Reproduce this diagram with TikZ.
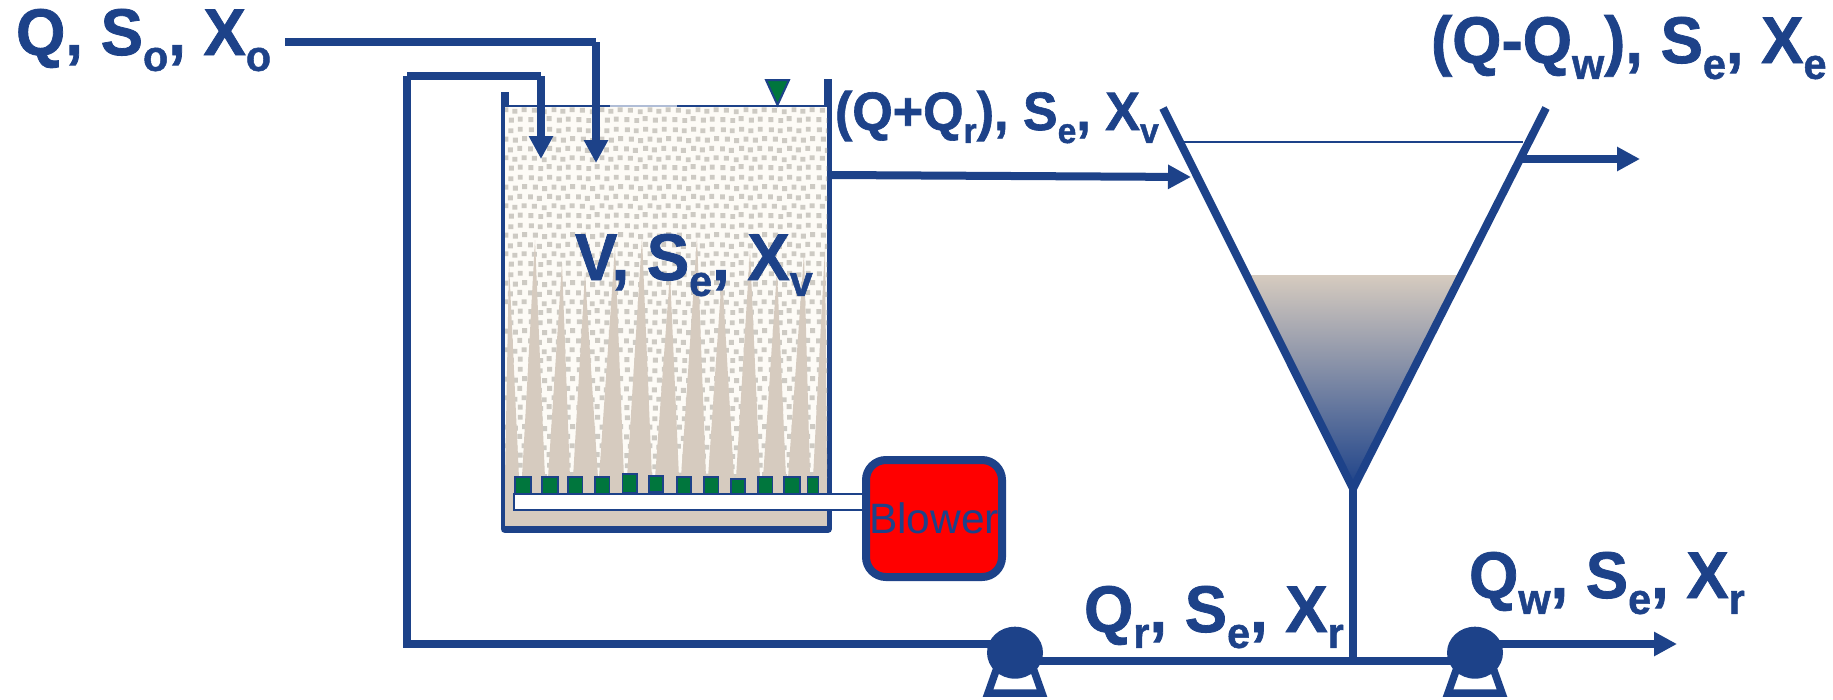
\documentclass[tikz,border=0pt]{standalone}
\usepackage{fontspec}
\setmainfont[BoldFeatures={FakeBold=1.2}]{Liberation Sans}
\usetikzlibrary{arrows.meta, patterns}

\definecolor{pipeblue}{HTML}{1D4289}
\definecolor{sandtan}{HTML}{D6CBBF}
\definecolor{sludgemid}{HTML}{A09CA8}
\definecolor{creamback}{HTML}{FDFBF6}
\definecolor{dotgrey}{HTML}{CDCAC3}
\definecolor{diffgreen}{HTML}{00763D}

\newcommand{\stipdot}[2]{\pgfpathrectangle{\pgfqpoint{#1pt}{#2pt}}{\pgfqpoint{5pt}{5pt}}}
\pgfdeclarepatternformonly{stipple}{\pgfpointorigin}{\pgfqpoint{48pt}{48pt}}{\pgfqpoint{48pt}{48pt}}{
    \stipdot{0.5}{1}\stipdot{10.5}{0}\stipdot{19}{2}\stipdot{29.5}{0.5}\stipdot{38.5}{1.5}
    \stipdot{4}{10.5}\stipdot{14}{9}\stipdot{24}{11}\stipdot{33}{9.5}\stipdot{42.5}{11}
    \stipdot{0}{20}\stipdot{9}{18.5}\stipdot{19.5}{20.5}\stipdot{28.5}{19}\stipdot{38}{20.5}
    \stipdot{5}{30}\stipdot{14.5}{28.5}\stipdot{24}{30}\stipdot{33.5}{29}\stipdot{43}{30.5}
    \stipdot{1}{39.5}\stipdot{10}{38.5}\stipdot{19.5}{40}\stipdot{29}{38.5}\stipdot{38.5}{40}
    \pgfusepath{fill}
}

\newcommand{\lowtxt}[1]{\raisebox{-.24em}{\scalebox{.65}{#1}}}

\tikzset{
    flowline/.style={draw=pipeblue, line width=8pt},
    flowarrow/.style={flowline, -{Triangle[width=23pt, length=23pt]}},
    biglabel/.style={anchor=base west, inner sep=0pt, yscale=1.04, text=pipeblue, font=\bfseries\fontsize{63.5}{70}\selectfont},
    midlabel/.style={biglabel, font=\bfseries\fontsize{52}{58}\selectfont},
    blowerbox/.style={draw=pipeblue, fill=red, line width=8pt, rounded corners=20pt, inner sep=0pt,
        minimum width=136pt, minimum height=117pt, text=pipeblue, font=\fontsize{42.5}{46}\selectfont}
}

\begin{document}
\begin{tikzpicture}[x=1pt, y=-1pt, line width=2pt]
    \useasboundingbox (0, 0) rectangle (1833, 699);

    % tank walls
    \draw[flowline, line join=round] (504.5, 92) -- (504.5, 529) -- (828, 529) -- (828, 79);

    % tank contents
    \fill[creamback] (505, 106) rectangle (827, 478);
    \fill[pattern=stipple, pattern color=dotgrey] (505, 106) rectangle (827, 478);
    \foreach \ax/\ay/\bl/\br in {509/263/505/519, 535/240/522/545, 562/263/548/570, 585/273/573/598,
        615/247/599/624, 642/237/627/652, 670/273/655/679, 697/237/681/706, 722/273/708/734,
        750/250/736/760, 777/270/763/786, 804/253/788/810, 825/247/813/827}
        \fill[sandtan] (\ax, \ay) -- (\br, 478) -- (\bl, 478) -- cycle;
    \fill[sandtan] (505, 478) rectangle (827, 526);

    % water level
    \draw[pipeblue, line width=1.5pt] (505, 106) -- (610, 106);
    \draw[pipeblue!35, line width=1.5pt] (610, 106) -- (677, 106);
    \draw[pipeblue, line width=1.5pt] (677, 106) -- (827, 106);
    \filldraw[fill=diffgreen, draw=pipeblue] (766, 80) -- (789, 80) -- (777.5, 105) -- cycle;

    % diffusers
    \foreach \dx/\dw/\dt/\db in {523/16/477/494, 550/16/477/494, 575/14.5/477/494, 602/14.5/477/494,
        629.5/14.5/474/493, 656/14/476/492, 684/14/477/494, 711/14.5/477/496, 738/14/479/496,
        765/14.5/477/496, 792/16/477/494, 813/11/477/496}
        \filldraw[fill=diffgreen, draw=pipeblue, line width=1.5pt] (\dx-\dw/2, \dt) rectangle (\dx+\dw/2, \db);

    % air pipe and blower
    \filldraw[fill=white, draw=pipeblue, line width=1.5pt] (514, 494) rectangle (866, 510);
    \node[blowerbox] (blower) at (934, 518.5) {Blower};

    % feed line
    \coordinate (feedstart) at (285, 42);
    \coordinate (feedturn) at (596, 42);
    \coordinate (feedin) at (596, 163);
    \draw[flowline] (feedstart) -- (feedturn);
    \draw[flowarrow] (feedturn) -- (feedin);

    % recycle line
    \coordinate (recpump) at (1015, 644);
    \coordinate (reclow) at (407, 644);
    \coordinate (rectop) at (407, 76);
    \coordinate (recturn) at (541, 76);
    \coordinate (recin) at (541, 159);
    \draw[flowline] (recpump) -- (reclow) -- (rectop);
    \draw[flowline] (rectop) -- (recturn);
    \draw[flowarrow] (recturn) -- (recin);

    % clarifier
    \fill[top color=sandtan, middle color=sludgemid, bottom color=pipeblue] (1250, 275) -- (1457, 275) -- (1353, 488) -- cycle;
    \draw[pipeblue, line width=1.5pt] (1184, 142) -- (1523, 142);
    \draw[flowline] (1163, 108) -- (1353, 488.5) -- (1546, 108);

    % clarifier in and out
    \coordinate (tankout) at (832, 175);
    \coordinate (clarin) at (1191, 177);
    \coordinate (clarout) at (1521, 159);
    \coordinate (clarend) at (1640, 159);
    \draw[flowarrow] (tankout) -- (clarin);
    \draw[flowarrow] (clarout) -- (clarend);

    % underflow and waste line
    \coordinate (stemtop) at (1353, 488);
    \coordinate (stemlow) at (1353, 661);
    \coordinate (rpump) at (1015, 661);
    \coordinate (wpump) at (1475, 661);
    \coordinate (wpumpout) at (1475, 644);
    \coordinate (wasteend) at (1677, 644);
    \draw[flowline] (stemtop) -- (stemlow);
    \draw[flowline] (rpump) -- (wpump);
    \draw[flowarrow] (wpumpout) -- (wasteend);

    % pumps
    \foreach \px in {1015, 1475} {
        \draw[pipeblue, line width=7.5pt] (\px-27, 693.2) -- (\px-17, 665) -- (\px+17, 665) -- (\px+27, 693.2) -- cycle;
        \fill[pipeblue] (\px, 652.7) ellipse [x radius=28, y radius=26];
    }

    % labels
    \node[biglabel] (influent) at (15, 55) {Q, S\lowtxt{o}, X\lowtxt{o}};
    \node[biglabel] (effluent) at (1430, 63) {(Q-Q\lowtxt{w}), S\lowtxt{e}, X\lowtxt{e}};
    \node[midlabel] (mixed) at (834, 130) {(Q+Q\lowtxt{r}), S\lowtxt{e}, X\lowtxt{v}};
    \node[biglabel] (tanklabel) at (574, 280) {V, S\lowtxt{e}, X\lowtxt{v}};
    \node[biglabel] (returnlabel) at (1083, 632) {Q\lowtxt{r}, S\lowtxt{e}, X\lowtxt{r}};
    \node[biglabel] (wastelabel) at (1468, 598) {Q\lowtxt{w}, S\lowtxt{e}, X\lowtxt{r}};
\end{tikzpicture}
\end{document}
